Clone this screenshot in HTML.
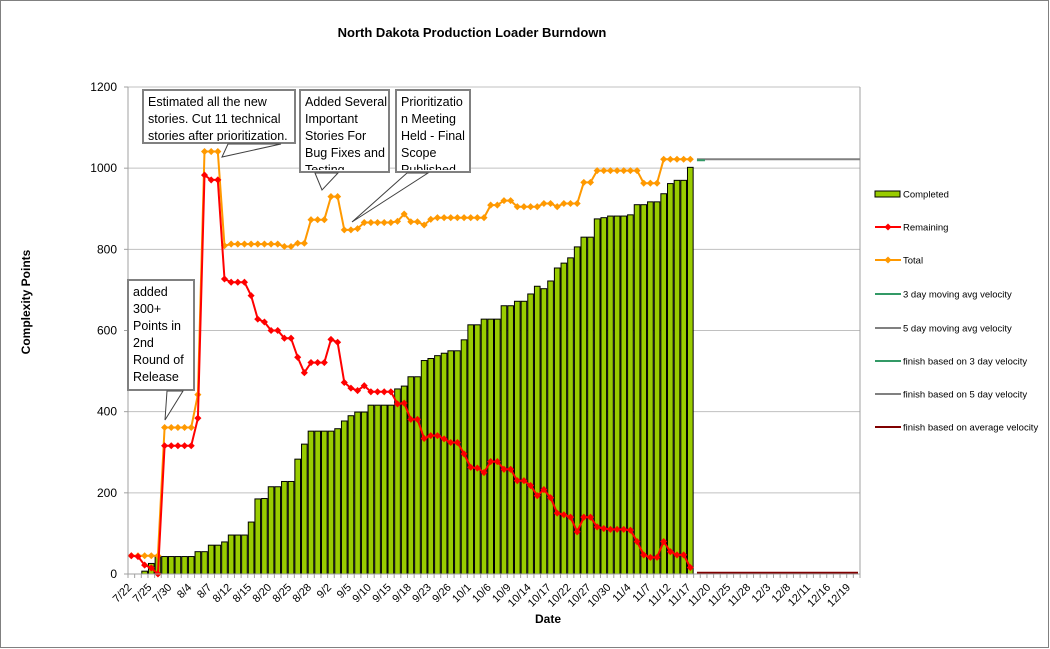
<!DOCTYPE html>
<html>
<head>
<meta charset="utf-8">
<style>
html,body{margin:0;padding:0;background:#fff;}
svg{display:block;font-family:"Liberation Sans",Arial,sans-serif;}
</style>
</head>
<body>
<svg id="chart" width="1050" height="649" viewBox="0 0 1050 649" xmlns="http://www.w3.org/2000/svg">
  <rect x="0.5" y="0.5" width="1048" height="647" fill="#fff" stroke="#808080"/>
  <text x="472" y="37" text-anchor="middle" font-size="13" font-weight="bold">North Dakota Production Loader Burndown</text>
  <text transform="translate(30,302) rotate(-90)" text-anchor="middle" font-size="12" font-weight="bold">Complexity Points</text>
  <text x="548" y="623" text-anchor="middle" font-size="12" font-weight="bold">Date</text>
  <g id="grid"></g>
  <g id="bars"></g>
  <g id="lines"></g>
  <g id="axes"></g>
  <g id="callouts"></g>
  <g id="legend"></g>
</svg>
<script>
const categoryCount = 110;
const tickLabels = ["7/22","7/25","7/30","8/4","8/7","8/12","8/15","8/20","8/25","8/28","9/2","9/5","9/10","9/15","9/18","9/23","9/26","10/1","10/6","10/9","10/14","10/17","10/22","10/27","10/30","11/4","11/7","11/12","11/17","11/20","11/25","11/28","12/3","12/8","12/11","12/16","12/19"];
const yTicks = [0,200,400,600,800,1000,1200];
const completed = [0,0,7,26,43,43,43,43,43,43, 55,55,71,71,79,96,96,96,128,185, 186,215,215,228,228,283,320,352,352,352, 352,358,377,390,399,399,416,416,416,416, 456,463,486,486,526,531,538,544,550,550, 577,614,614,628,628,628,661,661,672,672, 690,709,703,722,754,766,779,806,830,830, 875,878,882,882,882,885,910,910,917,917, 937,962,970,970,1002];
const remaining = [45,43,22,15,0,316,316,316,316,316, 384,983,971,971,727,719,719,719,686,628, 621,600,600,581,581,534,496,521,521,521, 578,571,472,458,452,464,449,449,449,449, 419,421,381,381,334,341,341,333,324,324, 296,263,261,250,277,277,258,258,230,230, 218,193,208,188,150,146,140,104,140,140, 116,112,110,110,110,108,80,47,41,41, 80,55,47,47,16];
const total = [45,45,45,45,45,361,361,361,361,361, 442,1041,1041,1041,809,813,813,813,813,813, 813,813,813,807,807,815,815,873,873,873, 930,930,848,848,851,866,866,866,866,866, 869,887,868,868,860,874,878,878,878,878, 878,878,878,878,909,909,920,920,905,905, 905,905,913,913,905,913,913,913,965,965, 994,994,994,994,994,994,994,963,963,963, 1022,1022,1022,1022,1022];
const fiveDayFinish = [1022,1022];
const avgFinish = [3,3];
const finishRange = [85,109];

const NS="http://www.w3.org/2000/svg";
const L=128,R=860,T=87,B=574;
const slot=(R-L)/categoryCount;
function xc(i){return L+(i+0.5)*slot;}
function y(v){return B-(v/1200)*(B-T);}
function mk(tag,attrs,parent){const e=document.createElementNS(NS,tag);for(const k in attrs)e.setAttribute(k,attrs[k]);parent.appendChild(e);return e;}

const grid=document.getElementById('grid');
const axes=document.getElementById('axes');
yTicks.forEach(v=>{
  if(v>0){const g=mk('line',{x1:L,x2:R,y1:y(v),y2:y(v),stroke:'#c0c0c0','stroke-width':1},grid);
  
  }
  const tk=mk('line',{x1:L-4,x2:L,y1:y(v),y2:y(v),stroke:'#a0a0a0'},axes);
  
  
  const t=mk('text',{x:L-11,y:y(v)+4,'text-anchor':'end','font-size':12},axes);
  t.textContent=v;
  
  
});
const ra=mk('line',{x1:R,x2:R,y1:T,y2:B,stroke:'#a0a0a0'},grid);


const ya=mk('line',{x1:L,x2:L,y1:T,y2:B+4,stroke:'#a0a0a0'},axes);


const xa=mk('line',{x1:L,x2:R,y1:B,y2:B,stroke:'#a0a0a0'},axes);


for(let i=0;i<=categoryCount;i++){
  const tk=mk('line',{x1:L+i*slot,x2:L+i*slot,y1:B,y2:B+4,stroke:'#a0a0a0'},axes);
  
  
}
tickLabels.forEach((lab,k)=>{
  const i=k*3,cx=xc(i)+1,cy=B+14;
  const t=mk('text',{x:cx,y:cy,'text-anchor':'end','font-size':11,transform:`rotate(-45 ${cx} ${cy})`},axes);
  t.textContent=lab;
  
  
});

const bars=document.getElementById('bars');
completed.forEach((v,i)=>{
  if(v<=0)return;
  const r=mk('rect',{x:xc(i)-slot/2+0.5,y:y(v),width:slot-1,height:B-y(v),fill:'#99cc00',stroke:'#000','stroke-width':1},bars);
  
  
});

const lines=document.getElementById('lines');
function series(arr,color,name){
  const pts=arr.map((v,i)=>xc(i).toFixed(1)+','+y(v).toFixed(1)).join(' ');
  const p=mk('polyline',{points:pts,fill:'none',stroke:color,'stroke-width':2},lines);
  
  
  arr.forEach((v,i)=>{
    const m=mk('rect',{x:xc(i)-2.5,y:y(v)-2.5,width:5,height:5,fill:color,transform:`rotate(45 ${xc(i)} ${y(v)})`},lines);
    
    
  });
}
series(total,'#ff9900','total');
series(remaining,'#ff0000','remaining');
const f5=mk('line',{x1:xc(finishRange[0]),x2:R,y1:y(fiveDayFinish[0]),y2:y(fiveDayFinish[1]),stroke:'#808080','stroke-width':2},lines);


const f3=mk('line',{x1:xc(finishRange[0]),x2:xc(finishRange[0])+8,y1:y(fiveDayFinish[0])+1,y2:y(fiveDayFinish[0])+1,stroke:'#339966','stroke-width':2},lines);


const fa=mk('line',{x1:xc(finishRange[0]),x2:R-2,y1:y(avgFinish[0]),y2:y(avgFinish[1]),stroke:'#800000','stroke-width':2},lines);



const co=document.getElementById('callouts');
function callout(name,x,yy,w,h,lines_,ptr){
  const g=mk('g',{},co);
  
  
  const cid='clip-'+name;
  const cp=mk('clipPath',{id:cid},g);
  mk('rect',{x:x+2,y:yy+2,width:w-4,height:h-4},cp);
  mk('rect',{x:x,y:yy,width:w,height:h,fill:'#fff',stroke:'#808080','stroke-width':2},g);
  mk('polygon',{points:ptr,fill:'#fff',stroke:'#404040','stroke-width':1},g);
  const tg=mk('g',{'clip-path':`url(#${cid})`},g);
  lines_.forEach((s,k)=>{
    const t=mk('text',{x:x+5,y:yy+16+k*17,'font-size':12.5,fill:'#000'},tg);
    t.textContent=s;
  });
}
callout('callout-added-300',128,280,66,110,["added","300+","Points in","2nd","Round of","Release","Planning"],"167,391 165,420 183,391");
callout('callout-estimated',143,90,152,53,["Estimated all the new","stories. Cut 11 technical","stories after prioritization."],"228,144 222,157 281,144");
callout('callout-added-several',300,90,89,82,["Added Several","Important","Stories For","Bug Fixes and","Testing"],"315,173 322,190 338,173");
callout('callout-prioritization',396,90,74,82,["Prioritizatio","n Meeting","Held - Final","Scope","Published"],"407,173 352,222 428,173");

const lg=document.getElementById('legend');
const items=[["Completed","bar","#99cc00"],["Remaining","mark","#ff0000"],["Total","mark","#ff9900"],["3 day moving avg velocity","line","#339966"],["5 day moving avg velocity","line","#808080"],["finish based on 3 day velocity","line","#339966"],["finish based on 5 day velocity","line","#808080"],["finish based on average velocity","line","#800000"]];
const ly=[194,227,260,294,328,361,394,427];
items.forEach((it,k)=>{
  const g=mk('g',{},lg);
  
  
  const yy=ly[k];
  if(it[1]==='bar'){mk('rect',{x:875,y:yy-3,width:25,height:6,fill:it[2],stroke:'#000'},g);}
  else{mk('line',{x1:875,x2:901,y1:yy,y2:yy,stroke:it[2],'stroke-width':2},g);
    if(it[1]==='mark')mk('rect',{x:885.5,y:yy-2.5,width:5,height:5,fill:it[2],transform:`rotate(45 888 ${yy})`},g);}
  const t=mk('text',{x:903,y:yy+3.5,'font-size':9.5},g);
  t.textContent=it[0];
});
</script>
</body>
</html>
